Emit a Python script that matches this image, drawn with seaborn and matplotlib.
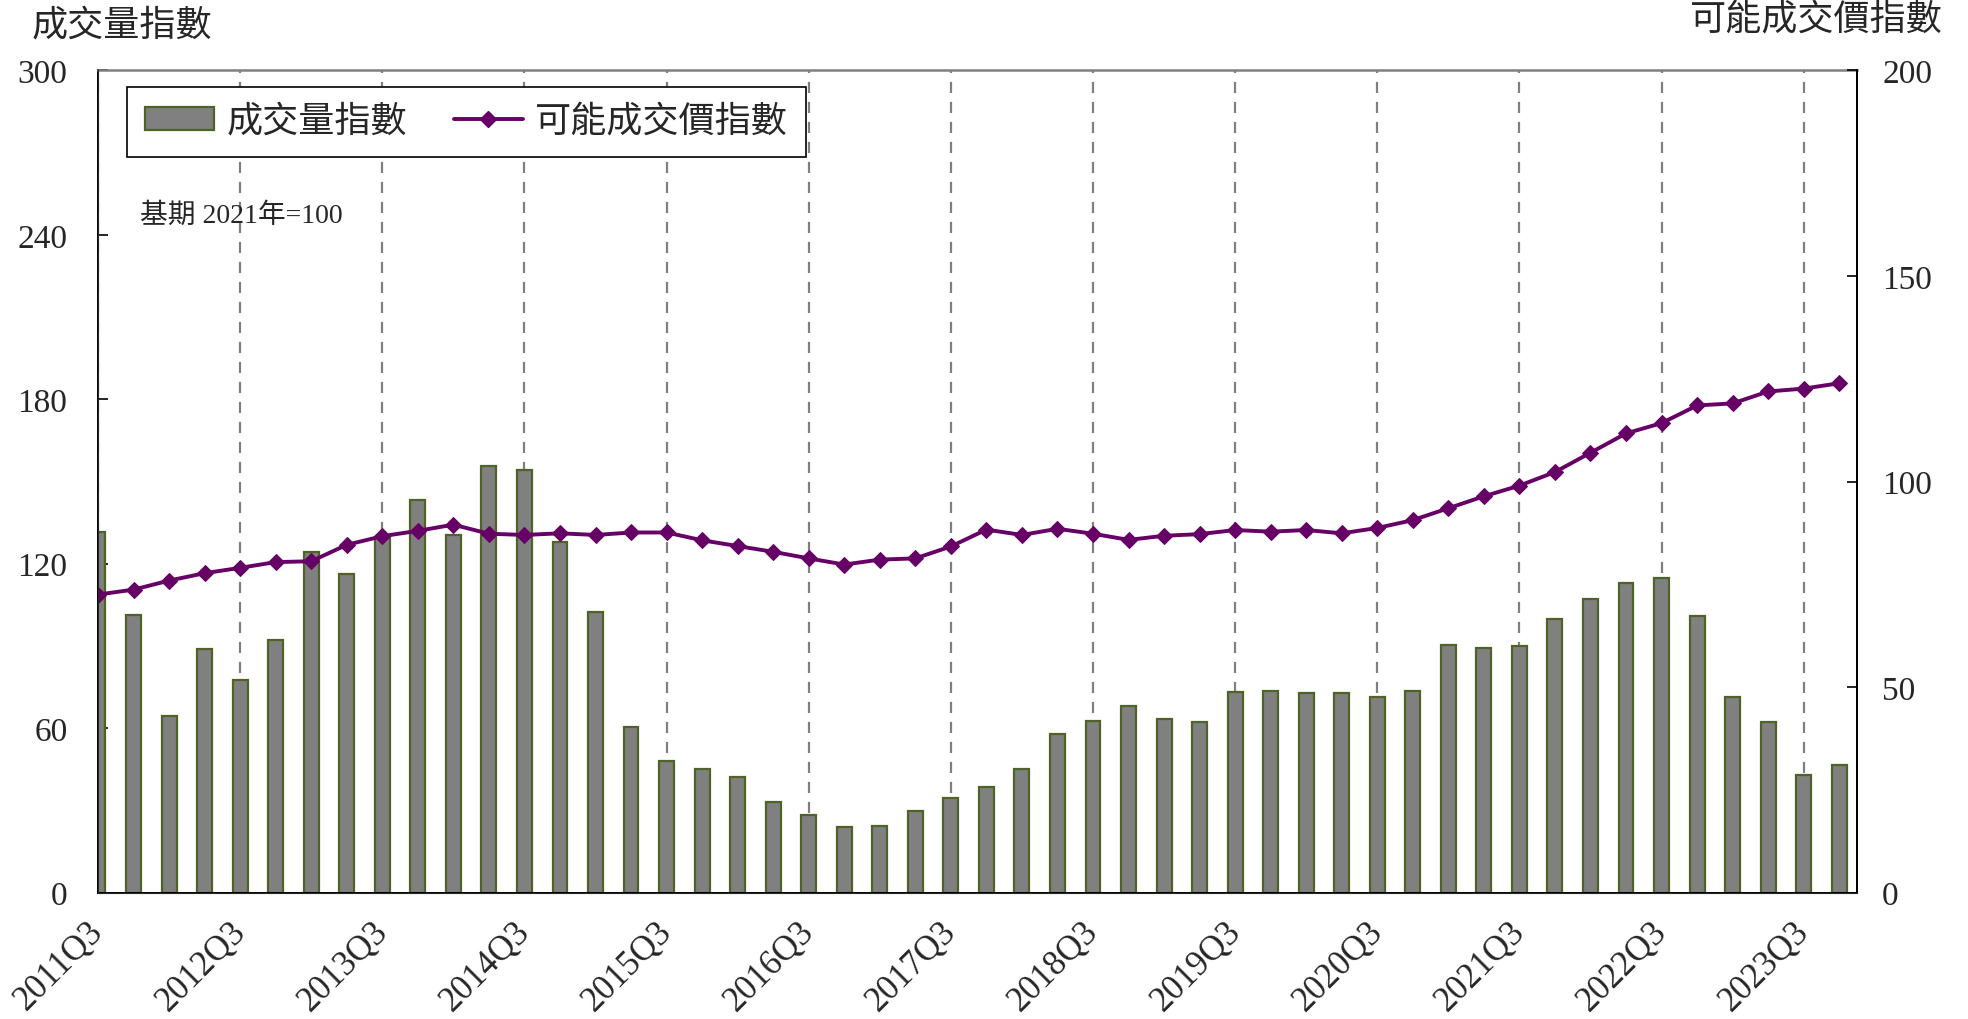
"""Taiwan housing: transaction volume index vs. possible transaction price index."""

import numpy as np
import seaborn as sns
from matplotlib import pyplot as plt
from matplotlib.lines import Line2D
from matplotlib.patches import Patch

plt.switch_backend("Agg")

YEARS = list(range(2011, 2024))
QUARTERS = [f"{y}Q{q}" for y in YEARS for q in (1, 2, 3, 4)][2:]

# 成交量指數 (left axis)
VOLUME = [
    131.5, 101.3, 64.3, 89.0, 77.5, 92.0, 124.4, 116.2, 129.8, 143.4,
    130.6, 155.5, 154.1, 127.9, 102.3, 60.6, 48.0, 45.1, 42.3, 33.1,
    28.3, 23.8, 24.3, 29.8, 34.4, 38.6, 45.2, 57.9, 62.8, 68.1,
    63.4, 62.3, 73.2, 73.7, 72.7, 72.7, 71.2, 73.6, 90.3, 89.4,
    89.9, 99.9, 107.3, 112.9, 114.7, 100.8, 71.2, 62.4, 42.8, 46.5,
]

# 可能成交價指數 (right axis)
PRICE = [
    72.5, 73.7, 75.9, 77.7, 79.0, 80.4, 80.6, 84.6, 86.7, 88.0,
    89.5, 87.3, 87.0, 87.4, 87.0, 87.6, 87.6, 85.7, 84.3, 82.9,
    81.3, 79.8, 81.0, 81.3, 84.2, 88.3, 87.0, 88.5, 87.3, 85.8,
    86.8, 87.2, 88.2, 87.8, 88.2, 87.4, 88.7, 90.6, 93.5, 96.4,
    99.0, 102.3, 107.0, 111.7, 114.2, 118.5, 119.0, 121.9, 122.6, 123.9,
]

LEFT_TICKS = [0, 60, 120, 180, 240, 300]
RIGHT_TICKS = [0, 50, 100, 150, 200]

BAR_FILL = "#808080"
BAR_EDGE = "#4F6228"
LINE_COLOR = "#660066"

sns.set_style("white")
FONTS = ["Liberation Serif", "Noto Sans CJK TC"]
plt.rcParams["font.family"] = FONTS

fig = plt.figure(figsize=(19.68, 10.2), dpi=100)
ax = fig.add_axes([0.0498, 0.1239, 0.8938, 0.8061])

x = np.arange(len(QUARTERS))
sns.barplot(x=x, y=VOLUME, ax=ax, color=BAR_FILL, width=0.42,
            edgecolor=BAR_EDGE, linewidth=1.6, saturation=1)
for p in ax.patches:
    p.set_facecolor(BAR_FILL)

ax.set_xlim(0, len(QUARTERS) - 0.5)
ax.set_ylim(0, 300)
ax.set_yticks(LEFT_TICKS)
ax.set_yticklabels([str(v) for v in LEFT_TICKS], fontsize=24)
tick_pos = x[::4]
ax.set_xticks(tick_pos)
ax.set_xticklabels([QUARTERS[i] for i in tick_pos], rotation=45, ha="right",
                   va="center", rotation_mode="anchor", fontsize=25)
ax.tick_params(axis="x", direction="in", length=7, width=1.2, pad=24, color="black")
ax.tick_params(axis="y", direction="in", length=7, width=1.2, pad=22, color="black")
ax.set_axisbelow(True)
ax.xaxis.grid(True, color="#808080", linestyle=(0, (5, 4)), linewidth=1.6)
ax.yaxis.grid(False)
for side in ("left", "bottom", "right"):
    ax.spines[side].set_color("black")
    ax.spines[side].set_linewidth(1.4)
ax.spines["top"].set_color("#808080")
ax.spines["top"].set_linewidth(1.8)

ax2 = ax.twinx()
sns.lineplot(x=x, y=PRICE, ax=ax2, color=LINE_COLOR, linewidth=2.8,
             marker="D", markersize=8.5, markeredgecolor=LINE_COLOR)
ax2.set_ylim(0, 200)
ax2.set_yticks(RIGHT_TICKS)
ax2.set_yticklabels([str(v) for v in RIGHT_TICKS], fontsize=24)
ax2.tick_params(axis="y", direction="in", length=7, width=1.2, pad=18, color="black")
ax2.spines["right"].set_color("black")
ax2.spines["right"].set_linewidth(1.4)
ax2.spines["top"].set_visible(False)
ax.set_xlim(0, len(QUARTERS) - 0.5)

handles = [
    Patch(facecolor=BAR_FILL, edgecolor=BAR_EDGE, linewidth=1.6),
    Line2D([], [], color=LINE_COLOR, linewidth=2.8, marker="D", markersize=8.5),
]
leg = ax2.legend(handles, ["成交量指數", "可能成交價指數"], loc="upper left",
                 bbox_to_anchor=(0.0165, 0.98), borderaxespad=0, ncol=2,
                 fontsize=26, frameon=True, fancybox=False, framealpha=1,
                 edgecolor="black", handlelength=1.9, handleheight=0.6,
                 columnspacing=1.3, borderpad=0.5, handletextpad=0.35)
leg.get_frame().set_linewidth(1.2)
leg.set_zorder(10)

ax.text(0.024, 0.824, "基期 2021年=100", transform=ax.transAxes,
        va="center", fontsize=20)

fig.text(0.016, 0.991, "成交量指數", ha="left", va="top", fontsize=26)
fig.text(0.987, 0.996, "可能成交價指數", ha="right", va="top", fontsize=26)

fig.savefig("out.png", dpi=100)
